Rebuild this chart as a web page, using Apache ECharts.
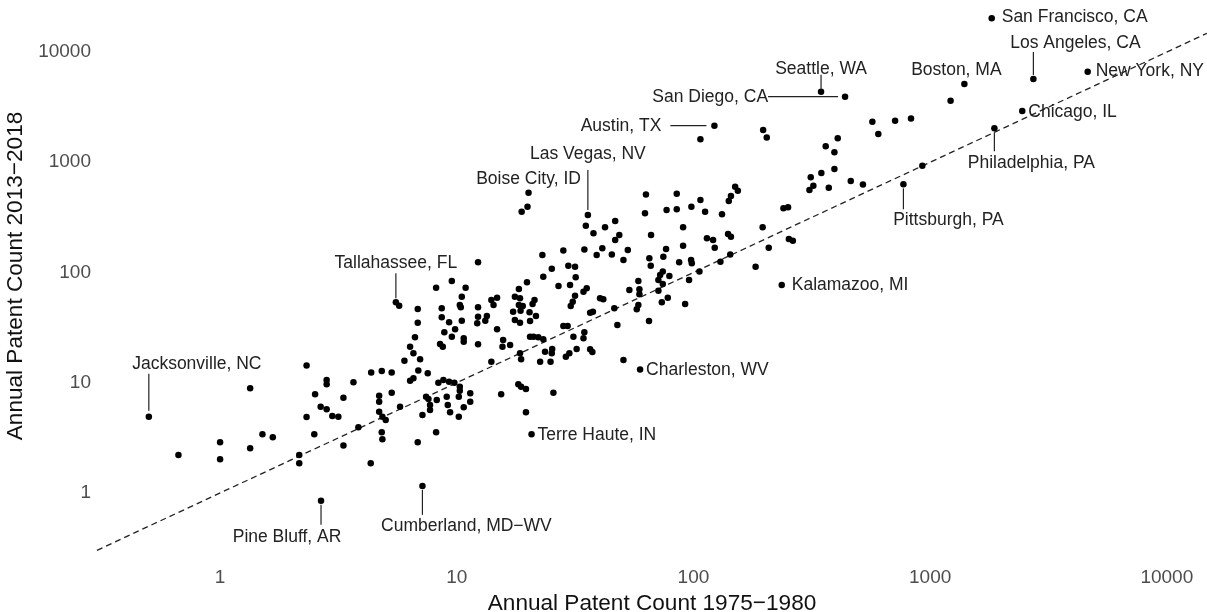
<!DOCTYPE html>
<html>
<head>
<meta charset="utf-8">
<title>Annual patent counts by metro area</title>
<script src="https://cdn.jsdelivr.net/npm/echarts@6/dist/echarts.min.js"></script>
<style>
  html, body { margin: 0; padding: 0; background: #fff; }
  #chart { width: 1207px; height: 612px; }
</style>
</head>
<body>
<div id="chart"></div>
<script>
// unlabelled metro areas: patents per year, 1975-1980 vs 2013-2018
const x1975 = [
  19.9, 18.8, 107, 197, 204, 570, 711, 830, 604, 407,
  362, 394, 394, 347, 313, 321, 309, 373, 462, 520,
  63, 85, 107, 77, 85, 98, 141, 144, 150, 154,
  240, 251, 1220, 927, 2.32, 1.34, 2.32, 0.667, 1.0, 1.0,
  1.34, 1.51, 1.67, 2.16, 2.16, 35.1, 37.8, 42.3, 12.3, 23.0,
  28.2, 34.6, 39.0, 41.2, 25.2, 29.6, 31.6, 23.2, 31.8, 19.8,
  9.53, 8.18, 10.9, 18.3, 26.9, 30.1, 35.4, 34.3, 10.5, 10.3,
  10.4, 12.3, 14.0, 14.8, 14.3, 17.6, 18.5, 18.3, 19.0, 21.3,
  20.9, 31.6, 30.9, 30.3, 40.3, 41.6, 6.84, 8.64, 8.64, 9.28,
  6.84, 10.5, 12.3, 12.2, 13.4, 13.2, 17.3, 18.6, 20.3, 21.6,
  17.6, 18.5, 20.4, 14.8, 8.86, 9.84, 9.53, 10.7, 10.7, 8.5,
  8.73, 12.3, 15.7, 15.6, 16.8, 20.4, 21.1, 22.1, 23.2, 28.2,
  29.4, 31.1, 34.6, 34.3, 36.6, 37.6, 36.6, 37.4, 32.1, 29.9,
  28.9, 25.3, 25.2, 23.6, 22.5, 24.9, 18.5, 18.7, 14.0, 6.66,
  6.35, 6.56, 7.0, 6.01, 6.88, 6.56, 6.35, 7.54, 8.36, 8.78,
  9.28, 9.77, 10.3, 10.3, 11.4, 11.4, 10.2, 9.07, 9.16, 8.23,
  7.42, 7.59, 7.71, 15.4, 18.2, 18.7, 19.6, 25.6, 5.76, 4.35,
  4.82, 5.31, 3.66, 2.82, 2.82, 2.52, 2.66, 3.32, 4.70, 4.70,
  5.31, 2.82, 2.98, 3.16, 2.50, 3.32, 3.84, 4.70, 4.85, 5.01,
  4.82, 4.85, 4.33, 7.16, 7.71, 6.84, 8.18, 9.37, 10.2, 10.7,
  19.6, 62.4, 112, 132, 46.7, 46.7, 48.6, 45.2, 50.6, 52.8,
  66.2, 65.1, 66, 74.6, 76.6, 90.4, 90.4, 87, 97.7, 98.4,
  114, 121, 123, 140, 144, 143, 130, 106, 95.8, 196,
  208, 183, 253, 263, 74.2, 72.3, 79.1, 71.1, 74.2, 71.1,
  58.5, 59.1, 59.1, 53.6, 58.5, 57.6, 46.3, 73.5, 77.9, 92.2,
  47.7, 64.9, 50.6, 5.71
];
const y2013 = [
  395, 356, 1620, 1960, 1680, 2330, 2380, 2500, 1800, 1650,
  1400, 1230, 870, 800, 730, 613, 560, 588, 675, 630,
  510, 518, 454, 369, 375, 395, 445, 494, 600, 552,
  382, 390, 3610, 930, 14.3, 8.9, 4.9, 2.21, 2.88, 2.02,
  2.54, 3.41, 3.2, 2.21, 1.86, 266, 227, 257, 124, 144,
  158, 162, 144, 166, 108, 115, 113, 91.6, 90.5, 81.5,
  83.7, 72.8, 72.8, 70.8, 75.4, 77, 71.9, 67, 60.3, 50.7,
  48.4, 48.4, 56.3, 59.1, 50.7, 60.3, 58.3, 50.7, 49.7, 56.3,
  51.8, 61.6, 54.3, 49.7, 58.3, 57.1, 46.7, 47.3, 39.3, 35.3,
  35.1, 36.5, 39.7, 34.6, 40.3, 36.5, 44.1, 45, 43.6, 40.3,
  37.1, 35.1, 36.3, 30.5, 28.7, 30.5, 26.2, 25.3, 23.6, 22.5,
  21.2, 22.3, 24.4, 21.2, 22, 26.2, 26.2, 25.8, 24.8, 32.7,
  32.7, 26.2, 28.7, 25.3, 43.2, 44.1, 20.1, 19, 20.2, 18.5,
  17.2, 20.2, 18.5, 19.1, 15.5, 15.5, 18.5, 16.3, 15.5, 25.8,
  21.2, 18.5, 16.3, 15.8, 12.9, 11, 10.4, 12.2, 10, 10.6,
  10.2, 10, 9.21, 8.47, 8.02, 6.73, 7.47, 7.47, 6.28, 6.98,
  7.47, 7.12, 6.28, 7.86, 9.68, 9.21, 8.78, 8.12, 6.06, 12.4,
  12.8, 12.4, 10.1, 10.6, 9.68, 7.86, 6.06, 7.32, 7.63, 6.73,
  8.12, 5.74, 4.99, 4.92, 3.41, 2.69, 3.94, 5.46, 4.92, 4.59,
  3.55, 3.07, 1.86, 5.1, 5.66, 2.88, 3.55, 5.4, 4.92, 5.99,
  5.4, 344, 356, 337, 293, 197, 219, 146, 130, 160,
  219, 135, 115, 139, 163, 257, 175, 124, 130, 121,
  204, 197, 168, 224, 211, 146, 125, 102, 85.5, 257,
  168, 113, 201, 194, 102, 94.9, 92.9, 85.5, 78.7, 68.4,
  83.7, 70.4, 63.4, 69.4, 50.7, 46.4, 47.3, 53.7, 59.1, 51.8,
  33.4, 36.3, 16.1, 50
];

// labelled metro areas
const labelCity = [
  'San Francisco, CA', 'Los Angeles, CA', 'New York, NY', 'Boston, MA', 'Chicago, IL',
  'Philadelphia, PA', 'Pittsburgh, PA', 'Seattle, WA', 'San Diego, CA', 'Austin, TX',
  'Las Vegas, NV', 'Boise City, ID', 'Tallahassee, FL', 'Kalamazoo, MI', 'Charleston, WV',
  'Jacksonville, NC', 'Terre Haute, IN', 'Pine Bluff, AR', 'Cumberland, MD−WV'
];
const labelX = [1820, 2730, 4630, 1395, 2450, 1868, 771, 346, 437, 122.6,
  35.8, 20.1, 5.53, 236, 59.5, 0.50, 20.7, 2.67, 7.16];
const labelY = [20200, 5690, 6620, 5130, 2917, 2032, 631, 4365, 3932, 2146,
  332, 530, 53.7, 77, 13.2, 4.92, 3.41, 0.85, 1.16];

const tickLabels = [1, 10, 100, 1000, 10000];

// where each label sits relative to its dot (px): dx, dy, align, leader segment
const labelPlace = {
  'San Francisco, CA': [10, -1, 'left'],
  'Los Angeles, CA': [42, -36, 'center', [0, -4, 0, -27]],
  'New York, NY': [8, -1, 'left'],
  'Boston, MA': [-8, -14, 'center'],
  'Chicago, IL': [6, 1, 'left'],
  'Philadelphia, PA': [37, 35, 'center', [0, 4, 0, 23]],
  'Pittsburgh, PA': [45, 36, 'center', [0, 4, 0, 25]],
  'Seattle, WA': [0, -23, 'center', [0, -3, 0, -17]],
  'San Diego, CA': [-77, 0, 'right', [-7, 0, -77, 0]],
  'Austin, TX': [-53, 0, 'right', [-8, 0, -44, 0]],
  'Las Vegas, NV': [0, -61, 'center', [0, -5, 0, -45]],
  'Boise City, ID': [0, -13, 'center'],
  'Tallahassee, FL': [0, -39, 'center', [0, -4, 0, -29]],
  'Kalamazoo, MI': [10, 0, 'left'],
  'Charleston, WV': [6, 1, 'left'],
  'Jacksonville, NC': [48, -53, 'center', [0, -6, 0, -43]],
  'Terre Haute, IN': [6, 1, 'left'],
  'Pine Bluff, AR': [-34, 36, 'center', [0, 4, 0, 24]],
  'Cumberland, MD−WV': [44, 40, 'center', [0, 4, 0, 29]]
};

const FONT = '"Liberation Sans", Arial, sans-serif';
const xMin = 0.302, xMax = 14780;
const yMin = 0.2916, yMax = 29630;

const points = x1975.map((x, i) => [x, y2013[i]])
  .concat(labelX.map((x, i) => [x, labelY[i]]));

const chart = echarts.init(document.getElementById('chart'), null, { renderer: 'canvas' });

const tickFmt = v => (tickLabels.indexOf(v) >= 0 ? String(v) : '');

chart.setOption({
  animation: false,
  backgroundColor: '#fff',
  grid: { left: 97, right: 0, top: 0, bottom: 60, outerBoundsMode: 'none' },
  xAxis: {
    type: 'log',
    logBase: 10,
    min: xMin,
    max: xMax,
    name: 'Annual Patent Count 1975−1980',
    nameLocation: 'middle',
    nameGap: 36,
    nameTextStyle: { fontFamily: FONT, fontSize: 22.6, color: '#111' },
    axisLine: { show: false },
    axisTick: { show: false },
    splitLine: { show: false },
    axisLabel: { formatter: tickFmt, fontFamily: FONT, fontSize: 19, color: '#4d4d4d', margin: 16 }
  },
  yAxis: {
    type: 'log',
    logBase: 10,
    min: yMin,
    max: yMax,
    name: 'Annual Patent Count 2013−2018',
    nameLocation: 'middle',
    nameGap: 64,
    nameTextStyle: { fontFamily: FONT, fontSize: 22.6, color: '#111' },
    axisLine: { show: false },
    axisTick: { show: false },
    splitLine: { show: false },
    axisLabel: { formatter: tickFmt, fontFamily: FONT, fontSize: 19, color: '#4d4d4d', margin: 6 }
  },
  series: [
    {
      // identity line y = x
      type: 'line',
      data: [[xMin, xMin], [xMax, xMax]],
      symbol: 'none',
      silent: true,
      lineStyle: { color: '#222', width: 1.3, type: [6, 4] },
      z: 1
    },
    {
      type: 'scatter',
      data: points,
      symbol: 'circle',
      symbolSize: 6.5,
      itemStyle: { color: '#000', opacity: 1 },
      silent: true,
      z: 2
    },
    {
      type: 'custom',
      data: labelX.map((x, i) => [x, labelY[i]]),
      silent: true,
      z: 3,
      renderItem: (params, api) => {
        const p = api.coord([api.value(0), api.value(1)]);
        const name = labelCity[params.dataIndex];
        const L = labelPlace[name];
        const kids = [{
          type: 'text',
          x: p[0] + L[0],
          y: p[1] + L[1],
          style: {
            text: name,
            fill: '#222',
            font: '17.5px ' + FONT,
            align: L[2],
            verticalAlign: 'middle'
          }
        }];
        if (L[3]) {
          const s = L[3];
          kids.push({
            type: 'line',
            shape: { x1: p[0] + s[0], y1: p[1] + s[1], x2: p[0] + s[2], y2: p[1] + s[3] },
            style: { stroke: '#222', lineWidth: 1.2 }
          });
        }
        return { type: 'group', children: kids };
      }
    }
  ]
});
</script>
</body>
</html>
